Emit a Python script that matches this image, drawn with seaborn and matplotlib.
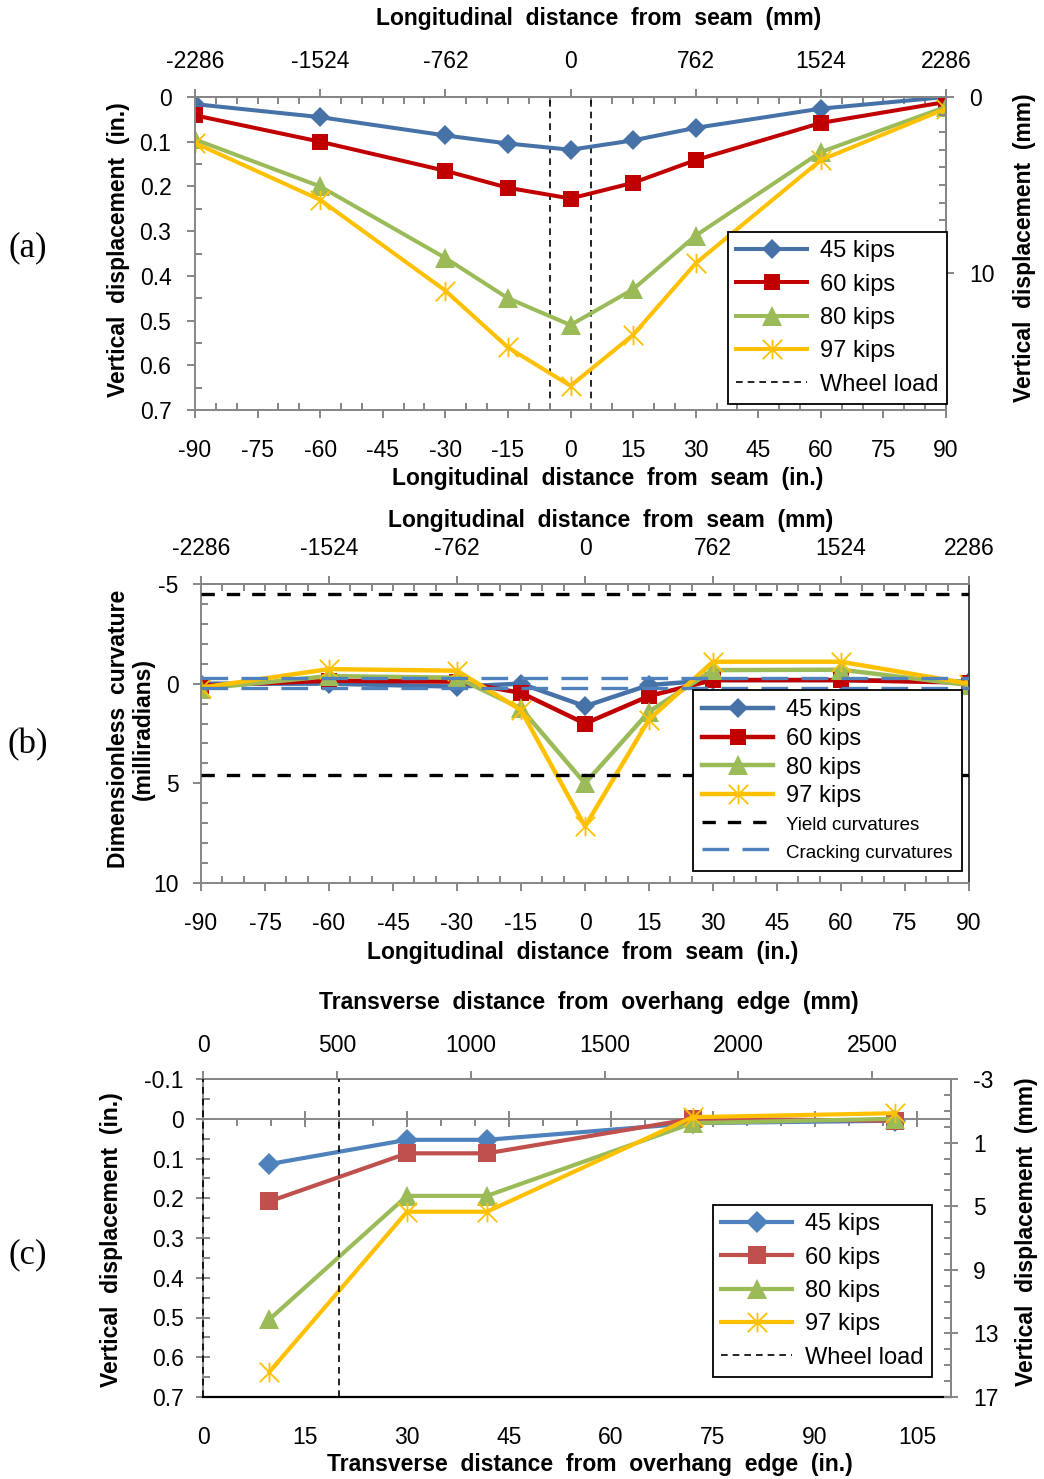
import numpy as np
import pandas as pd
import matplotlib
matplotlib.use('Agg')
import matplotlib.pyplot as plt
import seaborn as sns
from matplotlib.path import Path
from matplotlib.lines import Line2D
from matplotlib.ticker import MultipleLocator, FuncFormatter, NullFormatter

# ---------------- data ----------------
LOADS = ['45 kips', '60 kips', '80 kips', '97 kips']

# (a) longitudinal deflection profile (in.)
x_long = [-90, -60, -30, -15, 0, 15, 30, 60, 90]
disp_a_45 = [0.016, 0.045, 0.086, 0.104, 0.118, 0.097, 0.069, 0.026, 0.000]
disp_a_60 = [0.041, 0.100, 0.165, 0.203, 0.227, 0.192, 0.141, 0.058, 0.011]
disp_a_80 = [0.095, 0.200, 0.360, 0.450, 0.510, 0.430, 0.310, 0.123, 0.022]
disp_a_97 = [0.103, 0.230, 0.433, 0.560, 0.646, 0.532, 0.372, 0.141, 0.026]
wheel_a = [-5, 5]
mm_ticks_long = [-2286, -1524, -762, 0, 762, 1524, 2286]

# (b) dimensionless curvature (milliradians)
curv_45 = [0.00, 0.00, 0.15, 0.00, 1.13, 0.07, -0.18, -0.18, -0.10]
curv_60 = [0.10, -0.15, -0.10, 0.46, 2.00, 0.62, -0.18, -0.18, -0.05]
curv_80 = [0.25, -0.38, -0.30, 1.24, 5.00, 1.41, -0.68, -0.70, 0.07]
curv_97 = [0.20, -0.73, -0.65, 1.33, 7.16, 1.80, -1.10, -1.10, 0.00]
yield_curv = [-4.5, 4.6]
crack_curv = [-0.30, 0.24]

# (c) transverse deflection profile (in.)
x_trans = [9.75, 30, 41.75, 72, 101.75]
disp_c_45 = [0.114, 0.053, 0.053, 0.011, 0.005]
disp_c_60 = [0.208, 0.087, 0.087, 0.000, 0.005]
disp_c_80 = [0.505, 0.194, 0.194, 0.011, 0.000]
disp_c_97 = [0.637, 0.234, 0.234, -0.004, -0.014]
wheel_c = [0, 20]
mm_ticks_trans = [0, 500, 1000, 1500, 2000, 2500]

# ---------------- style ----------------
plt.rcParams['font.family'] = ['Liberation Sans', 'DejaVu Sans']
plt.rcParams['axes.unicode_minus'] = False

W, H = 1044, 1479
fig = plt.figure(figsize=(W / 100, H / 100), dpi=100)

GRAY = '#868686'
TICK_FS = 16.5
LEG_FS = 17
TITLE = dict(family=['Liberation Sans Narrow', 'Liberation Sans', 'DejaVu Sans'],
             weight='bold', size=16.5)

BLUE_A, RED_A = '#4672A8', '#C00000'
BLUE_C, RED_C = '#4F81BD', '#C0504D'
GREEN, YELLOW = '#9BBB59', '#FFC000'

STAR = Path([(0, -1), (0, 1), (-1, -1), (1, 1), (-1, 1), (1, -1)],
            [Path.MOVETO, Path.LINETO] * 3)
MARKERS = ['D', 's', '^', STAR]


def fx(px):
    return px / W


def fy(py):
    return 1 - py / H


def add_axes(l, t, r, b):
    return fig.add_axes([fx(l), fy(b), (r - l) / W, (b - t) / H])


def style_spines(ax):
    for s in ax.spines.values():
        s.set_color(GRAY)
        s.set_linewidth(1.4)


def fmt(v, p):
    return f'{round(v, 3):g}'


def draw_series(ax, x, ys, colors, lw, sizes):
    handles = []
    for y, lab, c, m, ms in zip(ys, LOADS, colors, MARKERS, sizes):
        df = pd.DataFrame({'x': x, 'y': y})
        sns.lineplot(data=df, x='x', y='y', ax=ax, color=c, linewidth=lw,
                     marker=m, markersize=ms, markerfacecolor=c,
                     markeredgecolor=c,
                     markeredgewidth=1.3 if m is STAR else 0,
                     sort=False, estimator=None, legend=False, zorder=2.2)
        handles.append(ax.lines[-1])
    return handles


def set_label(axis, text, px, py, rotation=0):
    if axis.axis_name == 'x':
        axis.axes.set_xlabel(text, va='center', ha='center', rotation=rotation, **TITLE)
    else:
        axis.axes.set_ylabel(text, va='center', ha='center', rotation=rotation, **TITLE)
    axis.set_label_coords(fx(px), fy(py), transform=fig.transFigure)


def make_legend(handles, labels, px, py, fs=LEG_FS, spacing=0.48, bpad=0.35,
                hlen=3.0):
    leg = fig.legend(handles, labels, loc='upper left',
                     bbox_to_anchor=(fx(px), fy(py)), bbox_transform=fig.transFigure,
                     frameon=True, fancybox=False, framealpha=1, edgecolor='black',
                     fontsize=fs, handlelength=hlen, handletextpad=0.55,
                     borderpad=bpad, labelspacing=spacing, borderaxespad=0,
                     numpoints=1)
    leg.get_frame().set_linewidth(1.3)
    return leg


def in2mm(v):
    return np.asarray(v) * 25.4


def mm2in(v):
    return np.asarray(v) / 25.4


# ================= (a) =================
axA = add_axes(195, 97, 946, 410)
hA = draw_series(axA, x_long, [disp_a_45, disp_a_60, disp_a_80, disp_a_97],
                 [BLUE_A, RED_A, GREEN, YELLOW], 2.9, [10.5, 12, 14, 14])
for xv in wheel_a:
    axA.axvline(xv, color='black', lw=1.2, ls=(0, (4, 3)), zorder=1.5)
axA.set_xlim(-90, 90)
axA.set_ylim(0.7, 0)
axA.xaxis.set_major_locator(MultipleLocator(15))
axA.xaxis.set_minor_locator(MultipleLocator(5))
axA.yaxis.set_major_locator(MultipleLocator(0.1))
axA.yaxis.set_minor_locator(MultipleLocator(0.05))
axA.yaxis.set_major_formatter(FuncFormatter(fmt))
style_spines(axA)
axA.tick_params(which='major', direction='out', length=6, width=1.4, color=GRAY,
                labelsize=TICK_FS)
axA.tick_params(which='minor', direction='in', length=5, width=1.4, color=GRAY)
axA.tick_params(axis='x', which='major', pad=15)
axA.tick_params(axis='y', which='major', pad=11)

secA = axA.secondary_xaxis('top', functions=(in2mm, mm2in))
secA.set_xticks(mm_ticks_long)
secA.xaxis.set_minor_locator(MultipleLocator(127))
secA.spines['top'].set_color(GRAY)
secA.spines['top'].set_linewidth(1.4)
secA.tick_params(which='major', direction='out', length=6, width=1.4, color=GRAY,
                 labelsize=TICK_FS, pad=11)
secA.tick_params(which='minor', direction='in', length=5, width=1.4, color=GRAY)

axA2 = axA.twinx()
axA2.set_ylim(0.7 * 25.4, 0)
axA2.set_yticks([0, 10])
axA2.yaxis.set_minor_locator(MultipleLocator(1))
for s in ['left', 'top', 'bottom']:
    axA2.spines[s].set_visible(False)
axA2.spines['right'].set_color(GRAY)
axA2.spines['right'].set_linewidth(1.4)
axA2.tick_params(which='major', direction='out', length=6, width=1.4, color=GRAY,
                 labelsize=TICK_FS, pad=11)
axA2.tick_params(which='minor', direction='in', length=5, width=1.4, color=GRAY)

set_label(axA.xaxis, 'Longitudinal  distance  from  seam  (in.)', 608, 478)
set_label(secA.xaxis, 'Longitudinal  distance  from  seam  (mm)', 599, 18)
set_label(axA.yaxis, 'Vertical  displacement  (in.)', 118, 250, rotation=90)
set_label(axA2.yaxis, 'Vertical  displacement  (mm)', 1025, 248, rotation=90)

wheel_handle = Line2D([], [], color='black', lw=1.2, ls=(0, (4, 3)))
make_legend(hA + [wheel_handle], LOADS + ['Wheel load'], 728, 232)

# ================= (b) =================
axB = add_axes(201, 584, 969, 883)
hB = draw_series(axB, x_long, [curv_45, curv_60, curv_80, curv_97],
                 [BLUE_A, RED_A, GREEN, YELLOW], 3.2, [10.5, 12, 14, 14])
for yv in yield_curv:
    axB.axhline(yv, color='black', lw=2.4, ls=(0, (4, 3.6)), zorder=3)
for yv in crack_curv:
    axB.axhline(yv, color=BLUE_C, lw=2.4, ls=(0, (8, 4)), zorder=3)
axB.set_xlim(-90, 90)
axB.set_ylim(10, -5)
axB.xaxis.set_major_locator(MultipleLocator(15))
axB.xaxis.set_minor_locator(MultipleLocator(5))
axB.yaxis.set_major_locator(MultipleLocator(5))
axB.yaxis.set_minor_locator(MultipleLocator(1))
axB.yaxis.set_major_formatter(FuncFormatter(fmt))
style_spines(axB)
axB.spines['right'].set_color('#404040')
axB.tick_params(which='major', direction='out', length=6, width=1.4, color=GRAY,
                labelsize=TICK_FS)
axB.tick_params(which='minor', direction='in', length=5, width=1.4, color=GRAY)
axB.tick_params(axis='x', which='major', pad=15)
axB.tick_params(axis='y', which='major', pad=10)

secB = axB.secondary_xaxis('top', functions=(in2mm, mm2in))
secB.set_xticks(mm_ticks_long)
secB.xaxis.set_minor_locator(MultipleLocator(127))
secB.spines['top'].set_color(GRAY)
secB.spines['top'].set_linewidth(1.4)
secB.tick_params(which='major', direction='out', length=6, width=1.4, color=GRAY,
                 labelsize=TICK_FS, pad=11)
secB.tick_params(which='minor', direction='in', length=5, width=1.4, color=GRAY)

set_label(axB.xaxis, 'Longitudinal  distance  from  seam  (in.)', 583, 953)
set_label(secB.xaxis, 'Longitudinal  distance  from  seam  (mm)', 611, 521)
axB.set_ylabel('Dimensionless  curvature\n(milliradians)', va='center', ha='center',
               rotation=90, linespacing=1.15, **TITLE)
axB.yaxis.set_label_coords(fx(131), fy(729), transform=fig.transFigure)

yield_handle = Line2D([], [], color='black', lw=2.4, ls=(0, (4, 3.6)))
crack_handle = Line2D([], [], color=BLUE_C, lw=2.4, ls=(0, (8, 4)))
legB = make_legend(hB + [yield_handle, crack_handle],
                   LOADS + ['Yield curvatures', 'Cracking curvatures'], 693, 690,
                   spacing=0.28, bpad=0.4)
for t in legB.get_texts()[4:]:
    t.set_fontsize(13.5)

# ================= (c) =================
axC = add_axes(203, 1079, 951, 1397)
hC = draw_series(axC, x_trans, [disp_c_45, disp_c_60, disp_c_80, disp_c_97],
                 [BLUE_C, RED_C, GREEN, YELLOW], 3.0, [11.5, 13, 14, 14])
for xv in wheel_c:
    axC.axvline(xv, color='black', lw=1.2, ls=(0, (4, 3)), zorder=3, clip_on=False)
axC.set_xlim(0, 110)
axC.set_ylim(0.7, -0.1)
axC.set_xticks(np.arange(0, 106, 15))
axC.yaxis.set_major_locator(MultipleLocator(0.1))
axC.yaxis.set_minor_locator(MultipleLocator(0.05))
axC.yaxis.set_major_formatter(FuncFormatter(fmt))
style_spines(axC)
axC.spines['bottom'].set_color('black')
axC.spines['bottom'].set_linewidth(1.6)
axC.tick_params(axis='x', which='both', length=0, labelsize=TICK_FS, pad=21)
axC.tick_params(axis='y', which='major', direction='inout', length=10, width=1.4,
                color=GRAY, labelsize=TICK_FS, pad=9)
axC.tick_params(axis='y', which='minor', direction='in', length=5, width=1.4, color=GRAY)

# horizontal axis crossing at zero displacement
zeroC = axC.secondary_xaxis(0.7 / 0.8)
zeroC.set_xticks(np.arange(0, 106, 15))
zeroC.xaxis.set_minor_locator(MultipleLocator(5))
zeroC.xaxis.set_major_formatter(NullFormatter())
for s in zeroC.spines.values():
    s.set_color(GRAY)
    s.set_linewidth(1.4)
zeroC.tick_params(which='major', direction='inout', length=12, width=1.4, color=GRAY)
zeroC.tick_params(which='minor', direction='in', length=5, width=1.4, color=GRAY)

secC = axC.secondary_xaxis('top', functions=(in2mm, mm2in))
secC.set_xticks(mm_ticks_trans)
secC.spines['top'].set_color(GRAY)
secC.spines['top'].set_linewidth(1.4)
secC.tick_params(which='major', direction='out', length=6, width=1.4, color=GRAY,
                 labelsize=TICK_FS, pad=10)

axC2 = axC.twinx()
axC2.set_ylim(17, -3)
axC2.set_yticks([-3, 1, 5, 9, 13, 17])
axC2.yaxis.set_minor_locator(MultipleLocator(1))
for s in ['left', 'top', 'bottom']:
    axC2.spines[s].set_visible(False)
axC2.spines['right'].set_color(GRAY)
axC2.spines['right'].set_linewidth(1.4)
axC2.tick_params(which='major', direction='inout', length=10, width=1.4, color=GRAY,
                 labelsize=TICK_FS, pad=11)
axC2.tick_params(which='minor', direction='in', length=5, width=1.4, color=GRAY)

set_label(axC.xaxis, 'Transverse  distance  from  overhang  edge  (in.)', 590, 1465)
set_label(secC.xaxis, 'Transverse  distance  from  overhang  edge  (mm)', 589, 1003)
set_label(axC.yaxis, 'Vertical  displacement  (in.)', 112, 1240, rotation=90)
set_label(axC2.yaxis, 'Vertical  displacement  (mm)', 1027, 1232, rotation=90)

make_legend(hC + [Line2D([], [], color='black', lw=1.2, ls=(0, (4, 3)))],
            LOADS + ['Wheel load'], 713, 1205)

# panel letters
for lab, py in [('(a)', 248), ('(b)', 745), ('(c)', 1255)]:
    fig.text(fx(28), fy(py), lab, ha='center', va='center', fontsize=25,
             family=['Liberation Serif', 'DejaVu Serif'])

fig.savefig('out.png', dpi=100)
